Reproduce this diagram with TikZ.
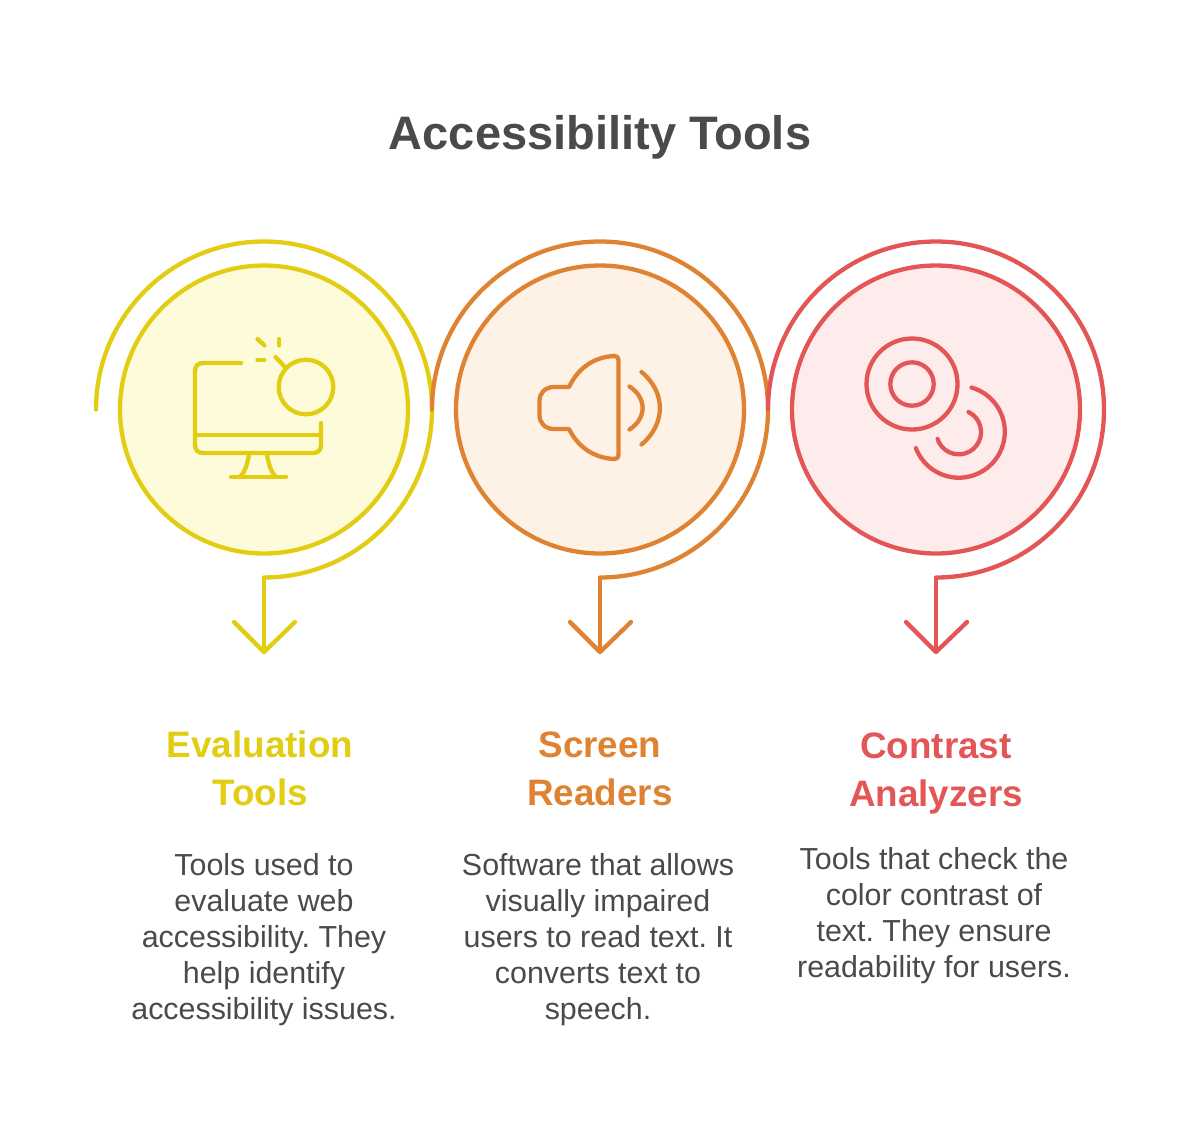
\documentclass[tikz,border=0pt]{standalone}
\usepackage{fontspec}
\setmainfont{Liberation Sans}
\definecolor{evalcol}{HTML}{E2CD13}
\definecolor{evalfill}{HTML}{FEFBDB}
\definecolor{screencol}{HTML}{DF8232}
\definecolor{screenfill}{HTML}{FEF2E6}
\definecolor{contrastcol}{HTML}{E45656}
\definecolor{contrastfill}{HTML}{FEEBEB}
\definecolor{textcol}{HTML}{4A4A4A}
\tikzset{
	ring/.style={circle, line width=4.3pt, minimum size=288pt, inner sep=0pt},
	stroke/.style={line width=4.3pt, line cap=round, line join=round},
	titletext/.style={text=textcol, font=\bfseries\fontsize{47}{56}\selectfont},
	headtext/.style={align=center, font=\bfseries\fontsize{36.8}{48}\selectfont},
	bodytext/.style={align=center, text=textcol, font=\frenchspacing\fontsize{30.4}{36}\selectfont}
}

\begin{document}
\begin{tikzpicture}[x=1pt, y=-1pt]
	\useasboundingbox (0,0) rectangle (1198,1128);

	% Title
	\node[titletext] (title) at (600,137.5) {Accessibility Tools};

	% Inner circles
	\node[ring, draw=evalcol, fill=evalfill] (evalring) at (264,409.5) {};
	\node[ring, draw=screencol, fill=screenfill] (screenring) at (600,409.5) {};
	\node[ring, draw=contrastcol, fill=contrastfill] (contrastring) at (936,409.5) {};

	% Outer arcs with arrows
	\draw[stroke, evalcol] (96,409.5) arc[start angle=180, end angle=450, radius=168] coordinate (evalbend);
	\coordinate (evaltip) at (264,652);
	\draw[stroke, evalcol, line cap=butt] (evalbend) -- (evaltip);
	\draw[stroke, evalcol] (234,622) -- (evaltip) -- (295,622);

	\draw[stroke, screencol] (432,409.5) arc[start angle=180, end angle=450, radius=168] coordinate (screenbend);
	\coordinate (screentip) at (600,652);
	\draw[stroke, screencol, line cap=butt] (screenbend) -- (screentip);
	\draw[stroke, screencol] (570,622) -- (screentip) -- (631,622);

	\draw[stroke, contrastcol] (768,409.5) arc[start angle=180, end angle=450, radius=168] coordinate (contrastbend);
	\coordinate (contrasttip) at (936,652);
	\draw[stroke, contrastcol, line cap=butt] (contrastbend) -- (contrasttip);
	\draw[stroke, contrastcol] (906,622) -- (contrasttip) -- (967,622);

	% Monitor icon
	\draw[stroke, evalcol] (241,363) -- (203,363) .. controls (198,363) and (195,366) .. (195,371) -- (195,445) .. controls (195,450) and (198,453) .. (203,453) -- (313,453) .. controls (318,453) and (321,450) .. (321,445) -- (321,423);
	\draw[stroke, evalcol] (195,435) -- (321,435);
	\draw[stroke, evalcol] (249,455) .. controls (247,465) and (245,472) .. (240,477);
	\draw[stroke, evalcol] (267,455) .. controls (269,465) and (271,472) .. (276,477);
	\draw[stroke, evalcol] (231,477) -- (286,477);
	\draw[stroke, evalcol] (306,387) circle[radius=27.3];
	\draw[stroke, evalcol] (275.5,357) -- (285,367);
	\draw[stroke, evalcol] (257.5,339) -- (264.5,345.5);
	\draw[stroke, evalcol] (279,339) -- (279,345.5);
	\draw[stroke, evalcol] (257.5,360) -- (264.5,360);

	% Speaker icon
	\draw[stroke, screencol] (569,387) -- (554,387) .. controls (545,387) and (539.5,393) .. (539.5,401) -- (539.5,415) .. controls (539.5,423) and (545,429) .. (554,429) -- (569,429) .. controls (578,447) and (594,458) .. (614,459) .. controls (617,459) and (618.5,458) .. (618.5,455) -- (618.5,360) .. controls (618.5,357) and (617,356) .. (614,356) .. controls (594,357) and (578,368) .. (569,387) -- cycle;
	\draw[stroke, screencol] (629.5,386.5) .. controls (647,398) and (647,418) .. (629.5,429.5);
	\draw[stroke, screencol] (641.5,372) .. controls (666,392) and (666,424) .. (641.5,444.5);

	% Discs icon
	\draw[stroke, contrastcol] (912,384) circle[radius=45.5];
	\draw[stroke, contrastcol] (912,384) circle[radius=21.7];
	\draw[stroke, contrastcol] (971.5,387.5) arc[start angle=-74, end angle=159, radius=46];
	\draw[stroke, contrastcol] (968.5,412) arc[start angle=-64, end angle=162, radius=22.3];

	% Headings
	\node[headtext, text=evalcol] (evalhead) at (260,768) {Evaluation\\Tools};
	\node[headtext, text=screencol] (screenhead) at (600,769) {Screen\\Readers};
	\node[headtext, text=contrastcol] (contrasthead) at (936,773) {Contrast\\Analyzers};

	% Descriptions
	\node[bodytext] (evalbody) at (264,939.5) {Tools used to\\evaluate web\\accessibility. They\\help identify\\accessibility issues.};
	\node[bodytext] (screenbody) at (598,939.5) {Software that allows\\visually impaired\\users to read text. It\\converts text to\\speech.};
	\node[bodytext] (contrastbody) at (934,915.5) {Tools that check the\\color contrast of\\text. They ensure\\readability for users.};
\end{tikzpicture}
\end{document}
